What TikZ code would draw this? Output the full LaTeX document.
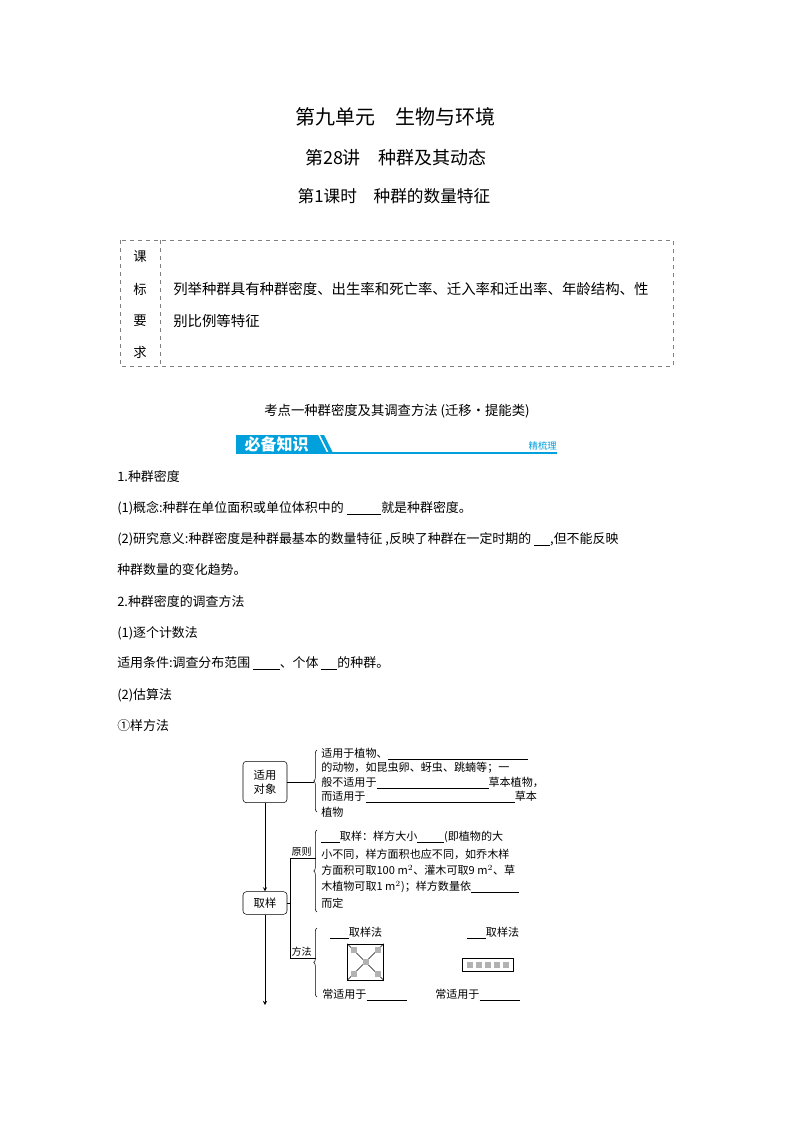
\documentclass[tikz,border=0pt]{standalone}
\usepackage{fontspec}
\setmainfont{Noto Sans CJK SC}
\usetikzlibrary{arrows, calc, positioning, decorations.pathreplacing}
\definecolor{bannerblue}{RGB}{0,160,220}
\newcommand{\blank}[1]{\underline{\hspace{#1}}}

\begin{document}
\begin{tikzpicture}[x=0.75pt, y=-0.75pt,
	txt/.style={anchor=west, inner sep=0pt, font=\fontsize{9.7}{12}\selectfont},
	sml/.style={anchor=west, inner sep=0pt, font=\fontsize{8.3}{10}\selectfont},
	keybox/.style={draw, rounded corners=2.5pt, minimum width=33pt, minimum height=17pt, inner sep=1pt, font=\fontsize{8.5}{10.5}\selectfont, align=center},
	brc/.style={decorate, decoration={brace, amplitude=2.5pt}}]
	\useasboundingbox (0,0) rectangle (794,1123);

	% titles
	\node [font=\fontsize{15}{18}\selectfont] (title) at (395, 117) {第九单元\quad 生物与环境};
	\node [font=\fontsize{13.5}{16}\selectfont] (lecture) at (396, 158) {第28讲\quad 种群及其动态};
	\node [font=\fontsize{12.5}{15}\selectfont] (lesson) at (394, 196) {第1课时\quad 种群的数量特征};

	% requirement table
	\draw[dashed, gray] (120, 240) rectangle (673, 366);
	\draw[dashed, gray] (160, 240) -- (160, 366);
	\node [font=\fontsize{10}{12}\selectfont] (k1) at (140, 257) {课};
	\node [font=\fontsize{10}{12}\selectfont] (k2) at (140, 289) {标};
	\node [font=\fontsize{10}{12}\selectfont] (k3) at (140, 321) {要};
	\node [font=\fontsize{10}{12}\selectfont] (k4) at (140, 352) {求};
	\node [txt, font=\fontsize{10.8}{13}\selectfont] (req1) at (173, 289) {列举种群具有种群密度、出生率和死亡率、迁入率和迁出率、年龄结构、性};
	\node [txt, font=\fontsize{10.8}{13}\selectfont] (req2) at (173, 321) {别比例等特征};

	% section heading and banner
	\node [font=\fontsize{10}{12}\selectfont] (point) at (397, 411) {考点一种群密度及其调查方法 (迁移·提能类)};
	\fill[bannerblue] (236, 435) -- (318, 435) -- (327, 453) -- (236, 453) -- cycle;
	\fill[bannerblue] (320, 435) -- (324, 435) -- (333, 453) -- (329, 453) -- cycle;
	\draw[bannerblue, line width=1pt] (236, 453) -- (557, 453);
	\node [anchor=west, text=white, font=\bfseries\fontsize{12}{14}\selectfont] (bixu) at (240, 444) {必备知识};
	\node [anchor=east, text=bannerblue, inner sep=0pt, font=\fontsize{7}{8}\selectfont] (shuli) at (557, 446) {精梳理};

	% body text
	\node [txt] (t1) at (117, 477) {1.种群密度};
	\node [txt] (t2) at (117, 508) {(1)概念:种群在单位面积或单位体积中的 \blank{26pt}就是种群密度。};
	\node [txt] (t3) at (117, 539) {(2)研究意义:种群密度是种群最基本的数量特征 ,反映了种群在一定时期的 \blank{12pt},但不能反映};
	\node [txt] (t4) at (117, 570) {种群数量的变化趋势。};
	\node [txt] (t5) at (117, 602) {2.种群密度的调查方法};
	\node [txt] (t6) at (117, 633) {(1)逐个计数法};
	\node [txt] (t7) at (117, 663) {适用条件:调查分布范围 \blank{20pt}、个体 \blank{12pt}的种群。};
	\node [txt] (t8) at (117, 695) {(2)估算法};
	\node [txt] (t9) at (117, 726) {①样方法};

	% diagram: objects
	\node [keybox, minimum height=31pt] (obj) at (265, 782) {适用\\对象};
	\draw[brc] (317, 812) -- (317, 750);
	\draw (obj.east) -- (314, 782);
	\node [sml] (o1) at (321, 754) {适用于植物、\blank{105pt}};
	\node [sml] (o2) at (321, 768) {的动物，如昆虫卵、蚜虫、跳蝻等；一};
	\node [sml] (o3) at (321, 783) {般不适用于\blank{84pt}草本植物，};
	\node [sml] (o4) at (321, 797) {而适用于\blank{112pt}草本};
	\node [sml] (o5) at (321, 812) {植物};

	% diagram: sampling
	\node [keybox] (samp) at (265, 903) {取样};
	\coordinate (bot) at (265, 1005);
	\draw[->, >=stealth] (obj) -- (samp);
	\draw[->, >=stealth] (samp) -- (bot);
	\draw (samp.east) -- (290, 903);
	\draw (290, 858) -- (290, 958);
	\draw (290, 858) -- (316, 858);
	\draw (290, 958) -- (316, 958);
	\node [anchor=south west, inner sep=1pt, font=\fontsize{7.5}{9}\selectfont] (rule) at (290, 858) {原则};
	\node [anchor=south west, inner sep=1pt, font=\fontsize{7.5}{9}\selectfont] (meth) at (290, 958) {方法};

	\draw[brc] (317, 912) -- (317, 830);
	\node [sml] (r1) at (321, 837) {\blank{14pt}取样：样方大小\blank{20pt}(即植物的大};
	\node [sml] (r2) at (321, 854) {小不同，样方面积也应不同，如乔木样};
	\node [sml] (r3) at (321, 870) {方面积可取100 m$^2$、灌木可取9 m$^2$、草};
	\node [sml] (r4) at (321, 887) {木植物可取1 m$^2$)；样方数量依\blank{36pt}};
	\node [sml] (r5) at (321, 903) {而定};

	\draw[brc] (317, 997) -- (317, 928);
	\node [sml] (m1) at (330, 933) {\blank{14pt}取样法};
	\node [sml] (m2) at (467, 933) {\blank{14pt}取样法};
	\node [sml] (m3) at (322, 995) {常适用于\blank{30pt}};
	\node [sml] (m4) at (435, 995) {常适用于\blank{30pt}};

	% five-point square
	\node [draw, minimum size=27pt, inner sep=0pt] (sq) at (365.5, 962) {};
	\draw (sq.north west) -- (sq.south east);
	\draw (sq.north east) -- (sq.south west);
	\foreach \dx/\dy in {-12/-12, 12/-12, -12/12, 12/12, 0/0}
		\fill[gray!60] (365.5+\dx-3, 962+\dy-3) rectangle (365.5+\dx+3, 962+\dy+3);

	% equidistant strip
	\node [draw, minimum width=38pt, minimum height=9.5pt, inner sep=0pt] (strip) at (488, 964.5) {};
	\foreach \i in {0,...,4}
		\fill[gray!60] (470+\i*9-3, 961.5) rectangle (470+\i*9+3, 967.5);
\end{tikzpicture}
\end{document}
